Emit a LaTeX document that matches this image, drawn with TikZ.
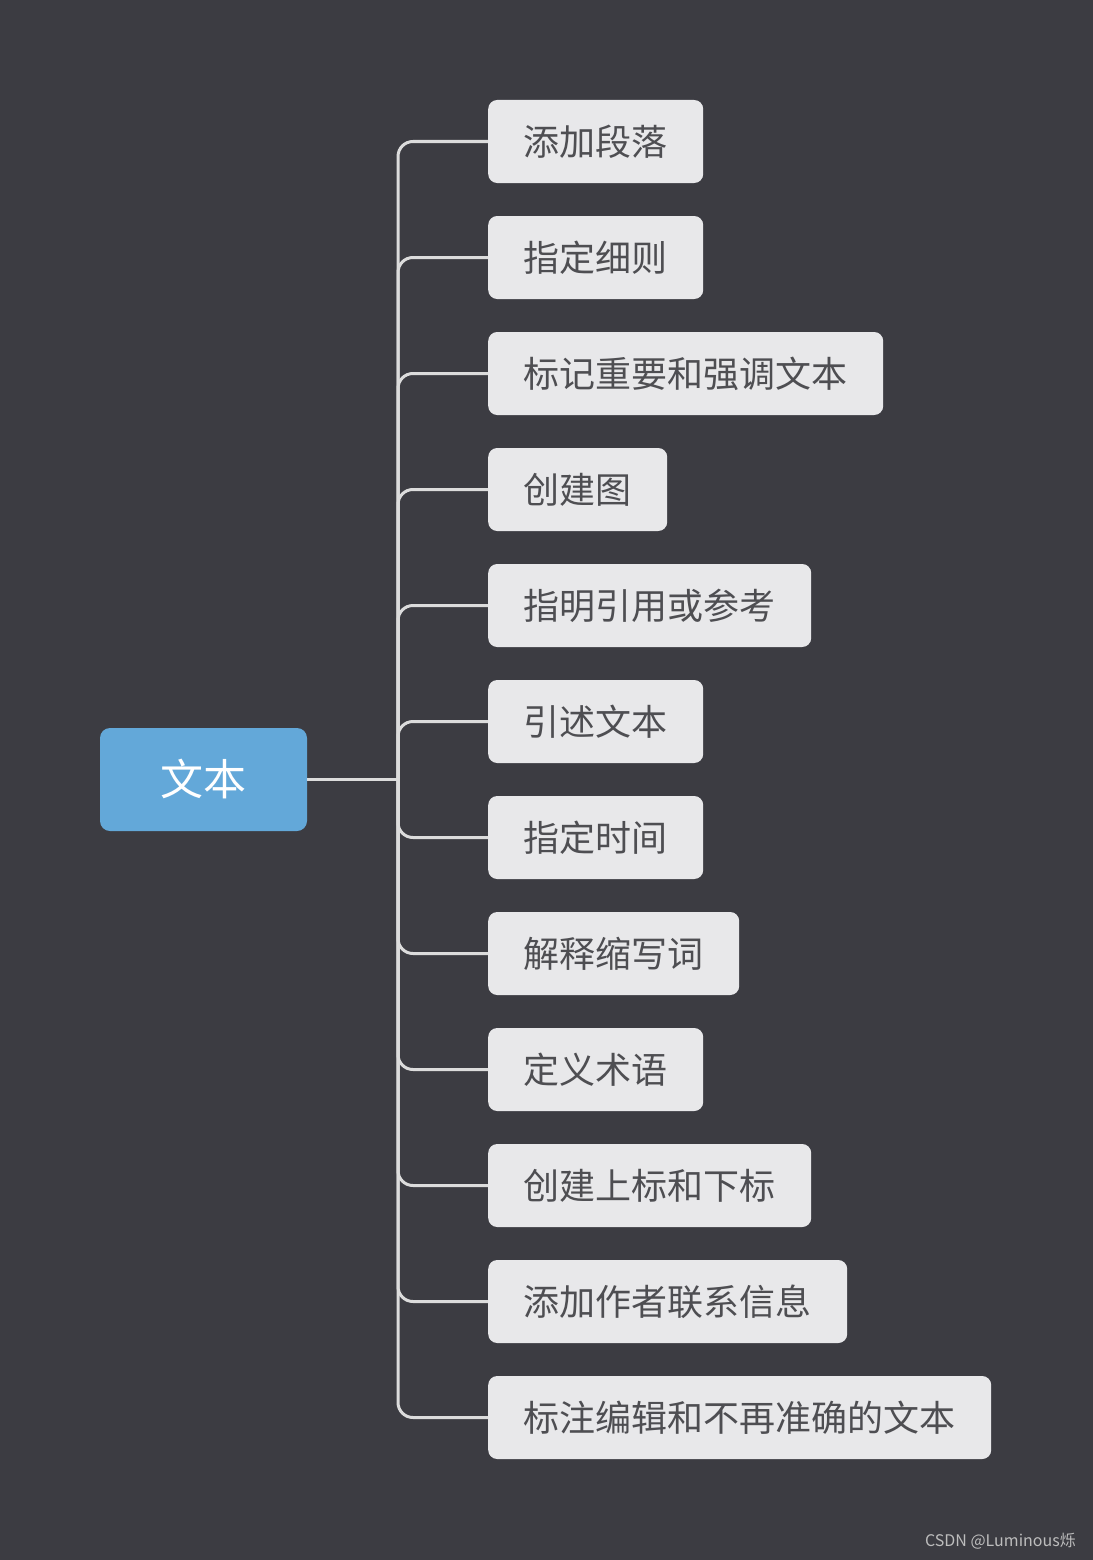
\documentclass[tikz,border=0pt]{standalone}
\usepackage{fontspec}
\setmainfont{Noto Sans CJK SC}
\definecolor{bgc}{HTML}{3C3C42}
\definecolor{rootc}{HTML}{63A8D9}
\definecolor{boxc}{HTML}{E8E8EA}
\definecolor{txtc}{HTML}{4E4E52}
\definecolor{linec}{HTML}{DCDCDC}
\definecolor{wmc}{HTML}{BDBDBD}
\tikzset{
  leaf/.style={fill=boxc, text=txtc, rounded corners=9pt, anchor=west, minimum height=83pt, inner sep=0pt, font=\fontsize{36}{40}\selectfont},
  rootbox/.style={fill=rootc, text=white, rounded corners=10pt, minimum width=207pt, minimum height=103pt, inner sep=0pt, font=\fontsize{43}{46}\selectfont},
  conn/.style={draw=linec, line width=3pt},
}
\begin{document}
\begin{tikzpicture}[x=1pt,y=-1pt]
\useasboundingbox (0,0) rectangle (1092,1560);
\fill[bgc] (-10,-10) rectangle (1102,1570);
\node[rootbox] (root) at (203.5,779.5) {文本};
\coordinate (j) at (398,779.5);
\node[leaf, minimum width=215pt] (c1) at (488,141.5) {添加段落};
\node[leaf, minimum width=215pt] (c2) at (488,257.5) {指定细则};
\node[leaf, minimum width=395pt] (c3) at (488,373.5) {标记重要和强调文本};
\node[leaf, minimum width=179pt] (c4) at (488,489.5) {创建图};
\node[leaf, minimum width=323pt] (c5) at (488,605.5) {指明引用或参考};
\node[leaf, minimum width=215pt] (c6) at (488,721.5) {引述文本};
\node[leaf, minimum width=215pt] (c7) at (488,837.5) {指定时间};
\node[leaf, minimum width=251pt] (c8) at (488,953.5) {解释缩写词};
\node[leaf, minimum width=215pt] (c9) at (488,1069.5) {定义术语};
\node[leaf, minimum width=323pt] (c10) at (488,1185.5) {创建上标和下标};
\node[leaf, minimum width=359pt] (c11) at (488,1301.5) {添加作者联系信息};
\node[leaf, minimum width=503pt] (c12) at (488,1417.5) {标注编辑和不再准确的文本};
\draw[conn] (root.east) -- (j);
\foreach \c in {c1,c2,c3,c4,c5,c6,c7,c8,c9,c10,c11,c12}{
  \draw[conn, rounded corners=15pt] (j) |- (\c.west);
}
\node[anchor=east, text=wmc, inner sep=0pt, font=\fontsize{16}{18}\selectfont] (wm) at (1076,1541) {CSDN @Luminous烁};
\end{tikzpicture}
\end{document}
